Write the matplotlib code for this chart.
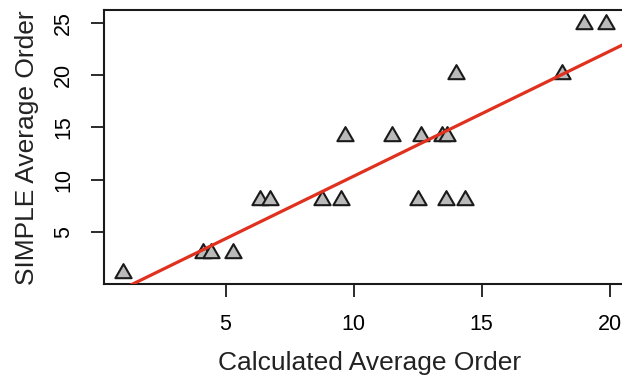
import matplotlib.pyplot as plt
import numpy as np
from matplotlib.path import Path

plt.rcParams['font.family'] = ['Liberation Sans', 'DejaVu Sans']

# calculated vs SIMPLE average order
calc_order = [1.0, 4.13, 4.43, 5.3, 6.34, 6.73, 8.77, 9.49, 9.66, 11.51,
              12.62, 13.44, 13.63, 12.52, 13.6, 14.37, 14.0, 18.15, 19.02, 19.86]
simple_order = [1.05, 3.05, 3.05, 3.05, 8.1, 8.1, 8.1, 8.1, 14.15, 14.15,
                14.15, 14.15, 14.15, 8.1, 8.1, 8.1, 20.1, 20.1, 24.85, 24.85]

# fitted line
fit_slope = 1.193
fit_intercept = -1.595

xticks = [5, 10, 15, 20]
yticks = [5, 10, 15, 20, 25]

# R style triangle (point at circumcentre)
tri = Path([(0, 1), (-0.866, -0.5), (0.866, -0.5), (0, 1)],
           [Path.MOVETO, Path.LINETO, Path.LINETO, Path.CLOSEPOLY])

fig = plt.figure(figsize=(6.22, 3.77), dpi=100)
ax = fig.add_axes([0.1672, 0.2454, 0.854, 0.728])

ax.scatter(calc_order, simple_order, marker=tri, s=13.5**2, facecolor='#bababa',
           edgecolor='#1a1a1a', linewidth=1.5, zorder=3)

xs = np.array([0, 22])
ax.plot(xs, fit_intercept + fit_slope * xs, color='#e0301e', lw=2.3, zorder=4)

ax.set_xlim(0.25, 21.0)
ax.set_ylim(0, 26.2)
ax.set_xticks(xticks)
ax.set_yticks(yticks)
ax.set_yticklabels([str(t) for t in yticks], rotation=90, va='center')
ax.tick_params(length=9.5, width=1.3, labelsize=15.5, pad=12, color='#1a1a1a')

for s in ax.spines.values():
    s.set_linewidth(1.5)
    s.set_color('#1a1a1a')
ax.spines['right'].set_visible(False)

ax.set_xlabel('Calculated Average Order', fontsize=19, color='#222222', labelpad=11)
ax.set_ylabel('SIMPLE Average Order', fontsize=19, color='#222222', labelpad=10)

plt.savefig('out.png', dpi=100)
